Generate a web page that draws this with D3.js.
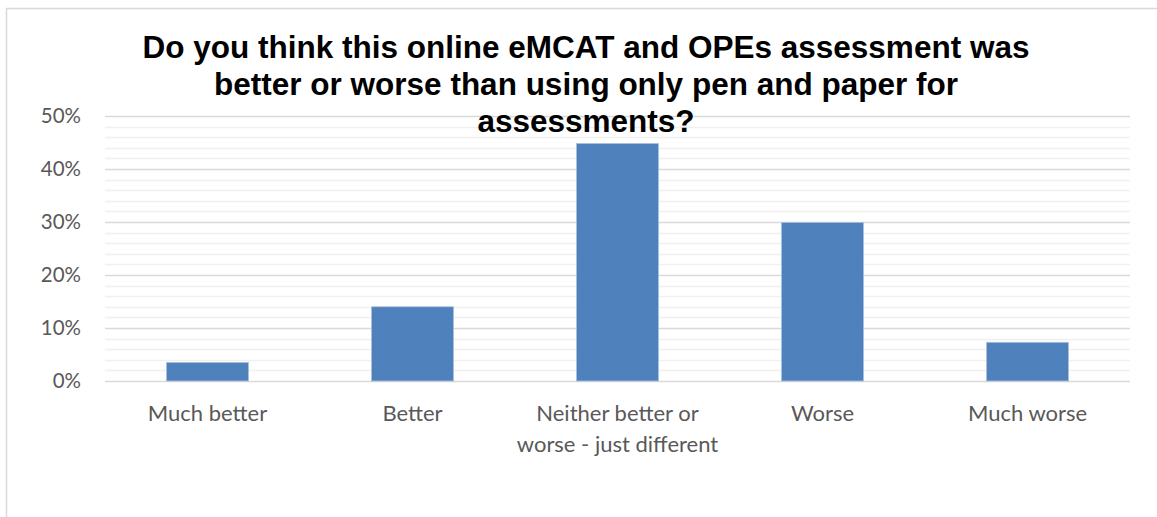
<!DOCTYPE html>
<html>
<head>
<meta charset="utf-8">
<script src="https://cdn.jsdelivr.net/npm/d3@7"></script>
<style>
  body { margin: 0; background: #fff; }
  svg { display: block; }
</style>
</head>
<body>
<div id="chart"></div>
<script>
// survey answers (share of respondents)
const categories = ['Much better', 'Better', 'Neither better or|worse - just different', 'Worse', 'Much worse'];
const values = [0.035, 0.14, 0.448, 0.299, 0.073];
const yTicks = [0, 0.1, 0.2, 0.3, 0.4, 0.5];
const titleLines = [
    'Do you think this online eMCAT and OPEs assessment was',
    'better or worse than using only pen and paper for',
    'assessments?'
];

const width = 1157, height = 517;
const margin = { left: 105, right: 27, top: 116, bottom: 136 };

const svg = d3.select('#chart').append('svg')
    .attr('width', width)
    .attr('height', height);

// chart frame (runs off the right and bottom edges)
svg.append('rect')
    .attr('x', 6.5).attr('y', 8.5)
    .attr('width', 1200).attr('height', 600)
    .attr('fill', '#fff')
    .attr('stroke', '#d9d9d9')
    .attr('stroke-width', 1.5);

const x = d3.scaleBand()
    .domain(categories)
    .range([margin.left, width - margin.right])
    .paddingInner(0.6)
    .paddingOuter(0.3);

const y = d3.scaleLinear()
    .domain([0, 0.5])
    .range([height - margin.bottom, margin.top]);

// minor gridlines every 2%
const minor = d3.range(0, 0.5001, 0.02).filter(v => Math.round(v * 100) % 10 !== 0);
svg.append('g').selectAll('line').data(minor).enter().append('line')
    .attr('x1', margin.left).attr('x2', width - margin.right)
    .attr('y1', d => Math.round(y(d)) + 0.5).attr('y2', d => Math.round(y(d)) + 0.5)
    .attr('stroke', '#f0f0f0').attr('stroke-width', 1.5);

// major gridlines
svg.append('g').selectAll('line').data(yTicks).enter().append('line')
    .attr('x1', margin.left).attr('x2', width - margin.right)
    .attr('y1', d => Math.round(y(d)) + 0.5).attr('y2', d => Math.round(y(d)) + 0.5)
    .attr('stroke', '#d9d9d9').attr('stroke-width', 1.5);

// y labels
svg.append('g').selectAll('text').data(yTicks).enter().append('text')
    .attr('x', 81)
    .attr('y', d => y(d))
    .attr('dy', '0.33em')
    .attr('text-anchor', 'end')
    .style('font-family', 'Lato, "Open Sans", sans-serif')
    .style('font-size', '20.5px')
    .style('fill', '#595959')
    .text(d => d3.format('.0%')(d));

// bars
svg.append('g').selectAll('rect').data(values).enter().append('rect')
    .attr('x', (d, i) => x(categories[i]))
    .attr('y', d => y(d))
    .attr('width', x.bandwidth())
    .attr('height', d => y(0) - y(d))
    .attr('fill', '#4f81bd')
    .attr('stroke', '#a7c0de')
    .attr('stroke-width', 0.8);

// category labels
const cat = svg.append('g').selectAll('text').data(categories).enter().append('text')
    .attr('x', d => x(d) + x.bandwidth() / 2)
    .attr('y', 421)
    .attr('text-anchor', 'middle')
    .style('font-family', 'Lato, "Open Sans", sans-serif')
    .style('font-size', '22px')
    .style('fill', '#595959');
cat.selectAll('tspan').data(d => d.split('|')).enter().append('tspan')
    .attr('x', function () { return d3.select(this.parentNode).attr('x'); })
    .attr('dy', (d, i) => i === 0 ? 0 : 31)
    .text(d => d);

// title
svg.append('g').selectAll('text').data(titleLines).enter().append('text')
    .attr('x', 586)
    .attr('y', (d, i) => 58 + i * 37)
    .attr('text-anchor', 'middle')
    .style('font-family', '"Liberation Sans", Arial, sans-serif')
    .style('font-weight', 'bold')
    .style('font-size', '31.5px')
    .style('fill', '#000')
    .text(d => d);
</script>
</body>
</html>
